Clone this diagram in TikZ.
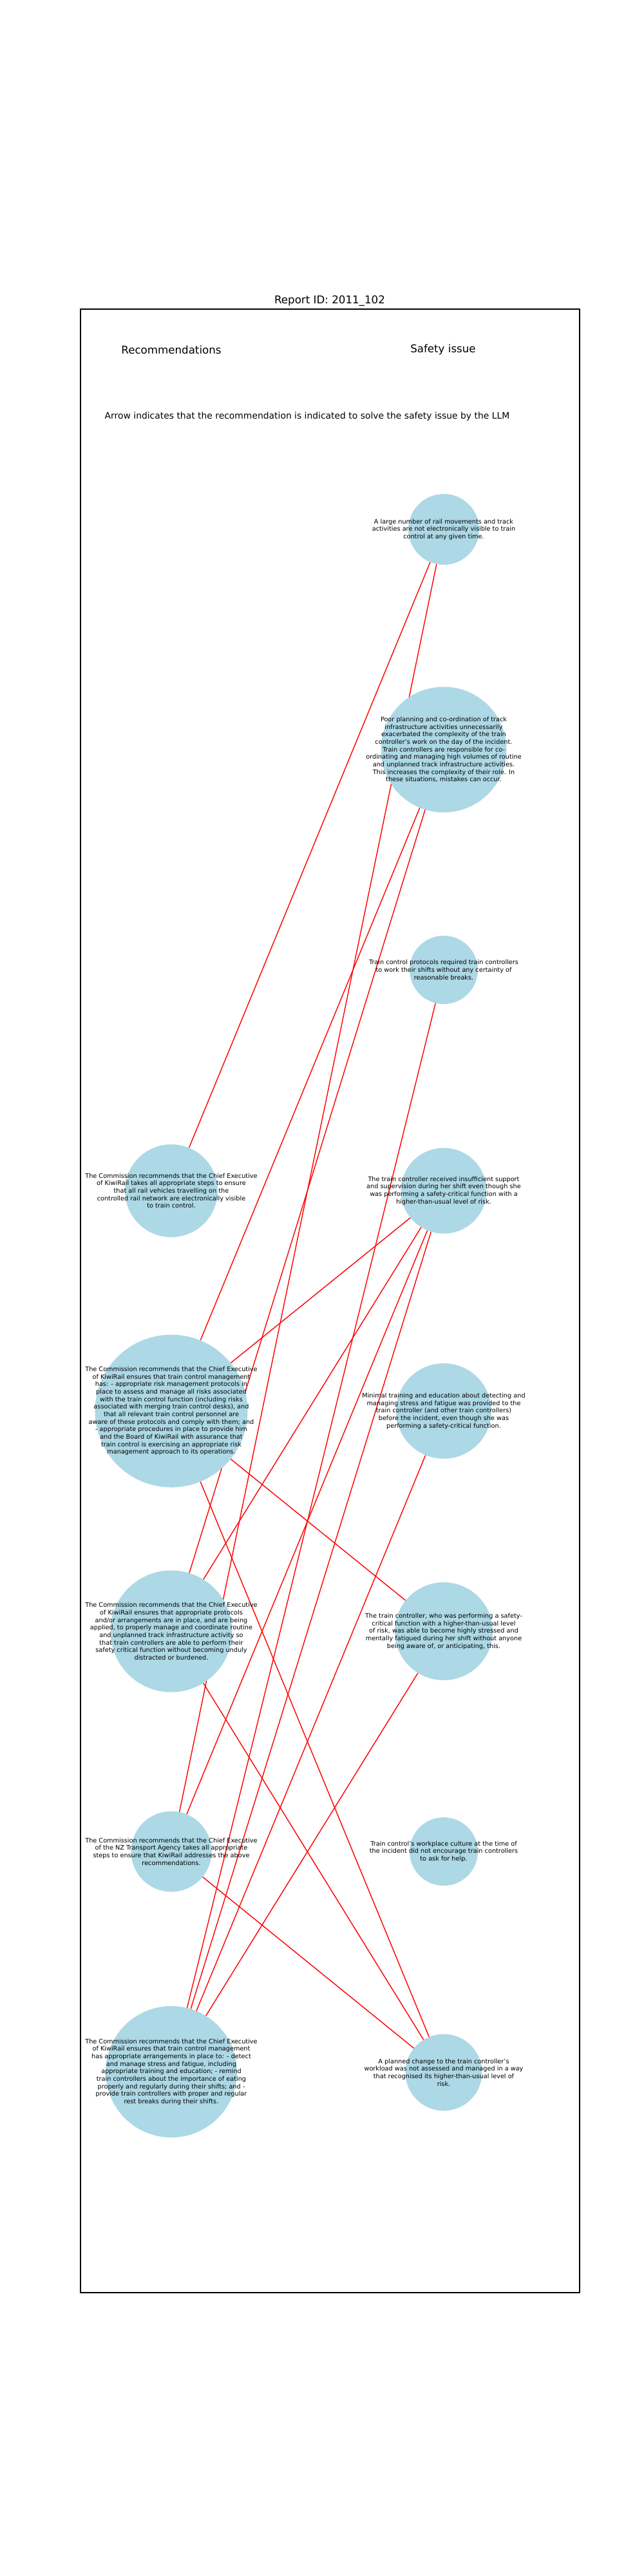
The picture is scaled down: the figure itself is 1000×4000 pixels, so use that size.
\documentclass[tikz,border=0pt]{standalone}
\usepackage{fontspec}
\setmainfont{DejaVu Sans}
\definecolor{nodeblue}{HTML}{ADD8E6}
\pgfdeclarelayer{bg}
\pgfsetlayers{bg,main}
\tikzset{
  bubble/.style={circle, fill=nodeblue, draw=none, inner sep=0pt, outer sep=0pt, minimum size=#1},
  lbl/.style={font={\fontsize{9.72}{11.67}\selectfont}, align=center, inner sep=0pt, text=black},
  link/.style={draw=red, line width=1.4pt},
  titletext/.style={font={\fontsize{16.67}{20}\selectfont}, inner sep=0pt},
  headtext/.style={font={\fontsize{16.67}{20}\selectfont}, inner sep=0pt},
  notetext/.style={font={\fontsize{13.89}{16}\selectfont}, inner sep=0pt},
  frame/.style={draw=black, line width=1.1pt}
}
\begin{document}
\begin{tikzpicture}[x=1pt,y=-1pt]
\useasboundingbox (0,0) rectangle (1000,4000);
\begin{pgfonlayer}{bg}
\fill[white] (0,0) rectangle (1000,4000);
\end{pgfonlayer}
\node[titletext] (title) at (512,467) {Report ID: 2011\_102};
\draw[frame] (125,480) rectangle (900,3560);
\node[headtext] (rechead) at (266,543) {Recommendations};
\node[headtext] (issuehead) at (688,543) {Safety issue};
\node[notetext] (note) at (477,647) {Arrow indicates that the recommendation is indicated to solve the safety issue by the LLM};

% safety issues
\node[bubble=110, label={[lbl]center:{A large number of rail movements and track\\activities are not electronically visible to train\\control at any given time.}}] (s1) at (689,822) {};
\node[bubble=195, label={[lbl]center:{Poor planning and co-ordination of track\\infrastructure activities unnecessarily\\exacerbated the complexity of the train\\controller's work on the day of the incident.\\Train controllers are responsible for co-\\ordinating and managing high volumes of routine\\and unplanned track infrastructure activities.\\This increases the complexity of their role. In\\these situations, mistakes can occur.}}] (s2) at (689,1164) {};
\node[bubble=106, label={[lbl]center:{Train control protocols required train controllers\\to work their shifts without any certainty of\\reasonable breaks.}}] (s3) at (689,1506) {};
\node[bubble=133, label={[lbl]center:{The train controller received insufficient support\\and supervision during her shift even though she\\was performing a safety-critical function with a\\higher-than-usual level of risk.}}] (s4) at (689,1849) {};
\node[bubble=148, label={[lbl]center:{Minimal training and education about detecting and\\managing stress and fatigue was provided to the\\train controller (and other train controllers)\\before the incident, even though she was\\performing a safety-critical function.}}] (s5) at (689,2191) {};
\node[bubble=152, label={[lbl]center:{The train controller, who was performing a safety-\\critical function with a higher-than-usual level\\of risk, was able to become highly stressed and\\mentally fatigued during her shift without anyone\\being aware of, or anticipating, this.}}] (s6) at (689,2533) {};
\node[bubble=106, label={[lbl]center:{Train control's workplace culture at the time of\\the incident did not encourage train controllers\\to ask for help.}}] (s7) at (689,2875) {};
\node[bubble=119, label={[lbl]center:{A planned change to the train controller's\\workload was not assessed and managed in a way\\that recognised its higher-than-usual level of\\risk.}}] (s8) at (689,3218) {};

% recommendations
\node[bubble=144, label={[lbl]center:{The Commission recommends that the Chief Executive\\of KiwiRail takes all appropriate steps to ensure\\that all rail vehicles travelling on the\\controlled rail network are electronically visible\\to train control.}}] (r1) at (266,1849) {};
\node[bubble=237, label={[lbl]center:{The Commission recommends that the Chief Executive\\of KiwiRail ensures that train control management\\has: - appropriate risk management protocols in\\place to assess and manage all risks associated\\with the train control function (including risks\\associated with merging train control desks), and\\that all relevant train control personnel are\\aware of these protocols and comply with them; and\\- appropriate procedures in place to provide him\\and the Board of KiwiRail with assurance that\\train control is exercising an appropriate risk\\management approach to its operations.}}] (r2) at (266,2191) {};
\node[bubble=189, label={[lbl]center:{The Commission recommends that the Chief Executive\\of KiwiRail ensures that appropriate protocols\\and/or arrangements are in place, and are being\\applied, to properly manage and coordinate routine\\and unplanned track infrastructure activity so\\that train controllers are able to perform their\\safety critical function without becoming unduly\\distracted or burdened.}}] (r3) at (266,2533) {};
\node[bubble=125, label={[lbl]center:{The Commission recommends that the Chief Executive\\of the NZ Transport Agency takes all appropriate\\steps to ensure that KiwiRail addresses the above\\recommendations.}}] (r4) at (266,2875) {};
\node[bubble=204, label={[lbl]center:{The Commission recommends that the Chief Executive\\of KiwiRail ensures that train control management\\has appropriate arrangements in place to: - detect\\and manage stress and fatigue, including\\appropriate training and education; - remind\\train controllers about the importance of eating\\properly and regularly during their shifts; and -\\provide train controllers with proper and regular\\rest breaks during their shifts.}}] (r5) at (266,3217) {};

\begin{pgfonlayer}{bg}
\foreach \a/\b in {r1/s1, r2/s2, r2/s4, r2/s6, r2/s8, r3/s2, r3/s4, r3/s8, r4/s1, r4/s4, r4/s8, r5/s3, r5/s4, r5/s5, r5/s6}
  \draw[link] (\a) -- (\b);
\end{pgfonlayer}
\end{tikzpicture}
\end{document}
